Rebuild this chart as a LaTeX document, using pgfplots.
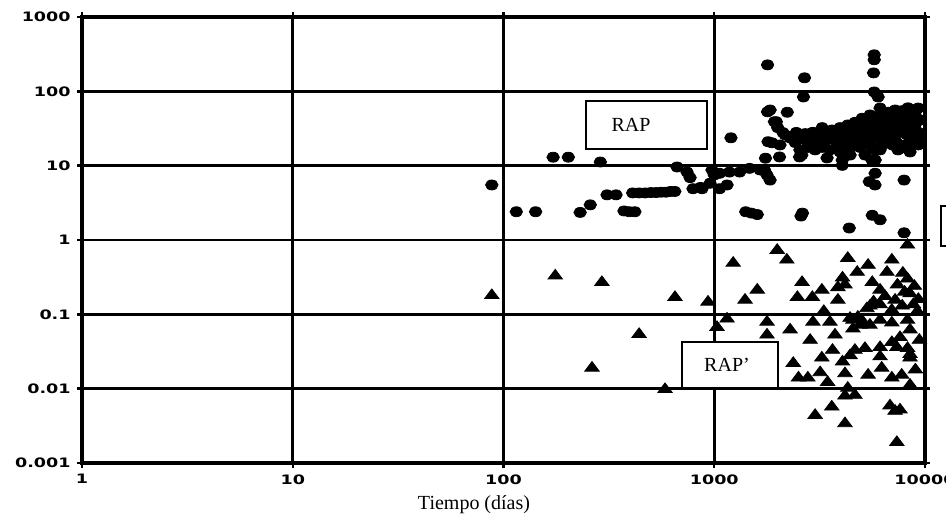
\documentclass[border=0pt]{standalone}
\usepackage{fontspec}
\setmainfont{Liberation Serif}
\newfontfamily\tickfont{DejaVu Sans}
\usepackage{graphicx}
\usepackage{pgfplots}
\pgfplotsset{compat=1.18}
% bold, slightly widened tick numbers
\newcommand\tk[1]{\scalebox{1.35}[1]{\tickfont\bfseries\fontsize{6.5}{7}\selectfont #1}}

\begin{document}
\begin{tikzpicture}
\useasboundingbox (0,0) rectangle (473pt,260pt);
\fill[white] (0,0) rectangle (473pt,260pt);
\begin{axis}[
  at={(41pt,28.5pt)}, anchor=south west,
  scale only axis, width=421.5pt, height=223pt,
  xmode=log, ymode=log,
  xmin=1, xmax=10000, ymin=0.001, ymax=1000,
  xtick={1,10,100,1000,10000},
  ytick={0.001,0.01,0.1,1,10,100,1000},
  xticklabels={\tk{1},\tk{10},\tk{100},\tk{1000},\tk{10000}},
  yticklabels={\tk{0.001},\tk{0.01},\tk{0.1},\tk{1},\tk{10},\tk{100},\tk{1000}},
  xminorticks=false, yminorticks=false,
  grid=major, major grid style={black, line width=1.3pt},
  axis line style={black, line width=2pt},
  tick align=outside, major tick length=2.5pt,
  tick style={black, line width=1.2pt},
  yticklabel style={anchor=east, inner sep=0pt, xshift=-3pt},
  xticklabel style={anchor=north, inner sep=0pt, yshift=-3pt},
  clip mode=individual,
]
% RAP
\addplot[only marks, mark=*, mark size=2.5pt,
  mark options={xscale=1.25, fill=black, draw=black}] coordinates {
(88,5.5) (115,2.4) (142,2.4) (172,13) (203,13) (288,11.2) (231,2.35)
(258,2.97) (310,4.05) (342,4.05) (373,2.46) (395,2.4) (420,2.4)
(410,4.3) (440,4.3) (470,4.3) (500,4.35) (530,4.35) (560,4.4) (590,4.4)
(620,4.5) (650,4.5)
(666,9.6) (743,8.2) (768,6.9) (793,4.9) (875,4.9) (976,8.75) (1000,7.5)
(1060,7.9) (1180,8.2) (1320,8.2) (1470,9.2) (1650,8.75) (1780,7.5)
(860,5.1) (955,5.8) (1060,4.9) (1150,5.5)
(1200,23.7) (1790,53) (1930,39) (1800,21) (1750,12.6) (1790,227)
(2680,152) (2650,84) (5740,310) (5740,266) (5700,177) (5740,98) (5990,84)
(1410,2.4) (1500,2.3) (1600,2.2) (2040,13.1) (2540,13.1) (1730,8.8)
(1840,6.4) (4050,11.9) (4050,10.1) (5800,11.9) (5800,7.9) (5440,6.1)
(5790,5.5) (7960,6.4) (2620,2.3) (2580,2.1) (5620,2.15) (6120,1.87)
(4370,1.45) (7960,1.25)
(2290,23.6) (2420,20.5) (2550,25.9) (2700,22.2) (2850,23.6) (3010,20.3)
(3180,24.4) (3350,21.5) (3540,25.9) (3740,22.2) (3950,27.8) (4170,23.6)
(4410,30.2) (4650,25.1) (4920,32.5) (5190,26.7) (5480,35.3) (5790,29.2)
(6120,41.2) (6460,33.5) (6820,44.4) (7210,37.9) (7610,48.1) (8040,39.8)
(8490,44.4) (8970,35.3) (9280,28.1) (8680,22.2) (8040,19.0) (7440,16.3)
(6820,22.2) (6250,19.0) (5790,16.3) (5360,20.5) (4920,17.6) (4450,20.3)
(4170,17.3) (3830,19.0) (3540,16.3) (3250,17.6) (3010,16.3) (2790,17.6)
(2550,16.3) (6120,59.6) (6680,52.3) (7210,56.1) (5480,48.1) (5030,43.4)
(4650,38.3) (4300,35.3) (3950,32.5) (3620,30.2) (8040,30.2) (8970,52.3)
(9470,41.2) (9280,19.0) (8490,15.3) (7210,25.9) (6460,23.6) (5190,13.9)
(5600,11.9) (4410,13.9) (3950,15.3) (3430,12.7) (2050,19.0) (2170,25.9)
(2000,32.5) (9280,59.6) (1840,56.1) (2220,52.3) (1970,39) (2120,27.8)
(1880,20.3) (2930,28.1) (3250,32.5) (4170,32.5) (4800,22.2) (5480,22.2)
(6000,23.6) (7610,28.1) (8490,32.5) (7000,19.0) (8780,25.9) (9470,22.2)
(2600,13.9) (6120,16.3)
(2450,28) (2700,27) (3100,26) (3400,28) (3700,24) (4000,21) (4300,25)
(4600,20) (5000,22) (5300,30) (5600,26) (6000,32) (6300,28) (6600,38)
(7000,31) (7300,45) (7700,35) (8200,26) (8700,40) (9000,47) (5200,38)
(5900,45) (6400,48) (7800,55) (8300,60) (4800,27) (4400,17) (5600,17.5)
(7300,21) (8200,17)
};
% RAP'
\addplot[only marks, mark=triangle*, mark size=3.2pt,
  mark options={xscale=1.3, fill=black, draw=black}] coordinates {
(88,0.18) (176,0.33) (293,0.27) (263,0.019) (440,0.054) (651,0.17)
(584,0.0098) (934,0.147) (1230,0.49) (1600,0.213) (1400,0.156)
(1150,0.087) (1030,0.067) (1780,0.079) (1780,0.053) (1990,0.73)
(2210,0.54) (2610,0.27) (2480,0.17) (2920,0.17) (3240,0.213) (3860,0.23)
(4060,0.31) (4170,0.25) (3860,0.156) (4300,0.57) (4770,0.37) (5370,0.46)
(6600,0.37) (6960,0.54) (7850,0.36) (8260,0.30) (8260,0.86) (6120,0.213)
(6460,0.175) (7210,0.156) (8490,0.19) (8800,0.136) (6120,0.136)
(6960,0.114) (5700,0.148) (5300,0.12) (3310,0.11) (3540,0.079)
(2940,0.079) (3740,0.053) (2290,0.062) (2850,0.045) (4550,0.084)
(4550,0.064) (4920,0.072) (5480,0.13) (4410,0.089) (4800,0.092)
(5080,0.079) (5480,0.072) (6120,0.084) (6960,0.077) (8260,0.084)
(8490,0.062) (7610,0.049) (6960,0.042) (6120,0.036) (8490,0.029)
(3640,0.033) (2370,0.022) (2510,0.014) (2780,0.014) (3240,0.026)
(3180,0.0165) (3450,0.0122) (4060,0.023) (4170,0.016) (4410,0.028)
(4650,0.033) (5190,0.035) (5370,0.0153) (6120,0.027) (6230,0.019)
(6960,0.014) (7350,0.036) (8260,0.035) (8490,0.026) (7750,0.0153)
(8490,0.0112) (4300,0.0102) (4170,0.0080) (4650,0.0082) (3610,0.0057)
(3010,0.0044) (4170,0.0034) (6820,0.0059) (7210,0.0050) (7610,0.0052)
(7350,0.0019) (5620,0.27) (8900,0.24) (9200,0.11) (9400,0.045)
(9000,0.018) (8000,0.2) (7400,0.25) (7800,0.13) (9300,0.16)
};
\end{axis}
% series labels
\draw[line width=0.8pt, fill=white] (293pt,185.5pt) rectangle (353.5pt,209.5pt);
\node[font=\fontsize{10}{12}\selectfont] at (315.5pt,197.5pt) {RAP};
\draw[line width=0.8pt, fill=white] (341pt,66pt) rectangle (389pt,89pt);
\node[font=\fontsize{10}{12}\selectfont] at (363.5pt,77.5pt) {RAP’};
\draw[line width=1pt] (480pt,157pt) -- (470.5pt,157pt) -- (470.5pt,137pt) -- (480pt,137pt);
% axis title
\node[font=\fontsize{10}{12}\selectfont] at (237pt,7.5pt) {Tiempo (días)};
\end{tikzpicture}
\end{document}
